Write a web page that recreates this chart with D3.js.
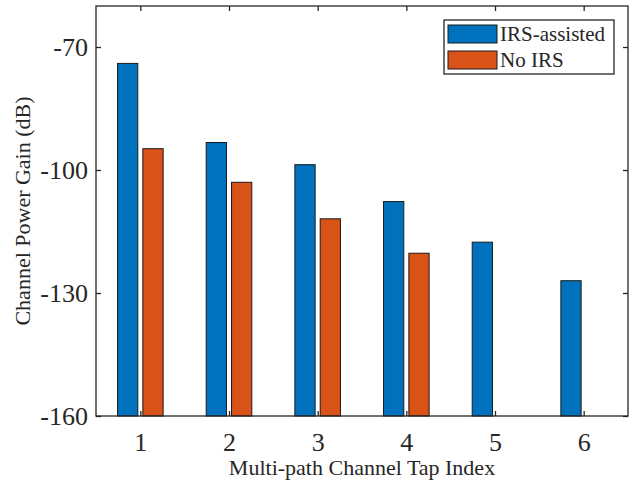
<!DOCTYPE html>
<html>
<head>
<meta charset="utf-8">
<script src="https://cdn.jsdelivr.net/npm/d3@7"></script>
<style>
  html, body { margin: 0; padding: 0; background: #ffffff; }
  svg { display: block; }
</style>
</head>
<body>
<svg id="chart" width="633" height="480"></svg>
<script>
// Channel tap indices and per-tap power gains (dB)
const taps = [1, 2, 3, 4, 5, 6];
const irsAssisted = [-74.0, -93.3, -98.7, -107.7, -117.6, -127.0];
const noIrs = [-94.8, -103.0, -111.9, -120.3, null, null];
const seriesNames = ["IRS-assisted", "No IRS"];
const seriesColors = ["#0072BD", "#D95319"];
const yTicks = [-160, -130, -100, -70];

const W = 633, H = 480;
const margin = { left: 96, right: 5, top: 6, bottom: 64 };
const plotL = margin.left, plotR = W - margin.right;
const plotT = margin.top, plotB = H - margin.bottom;

const serif = "'Liberation Serif', 'Times New Roman', 'DejaVu Serif', serif";
const svg = d3.select("#chart");
const axisColor = "#262626";

const x = d3.scaleLinear().domain([0.5, 6.5]).range([plotL, plotR]);
const y = d3.scaleLinear().domain([-160, -60]).range([plotB, plotT]);

// Grouped bar layout: two series per tap
const groupWidth = 2 / 3.5;
const barW = groupWidth / 2 * 0.8;
const offsets = [-groupWidth / 4, groupWidth / 4];
const series = [irsAssisted, noIrs];

series.forEach((vals, si) => {
  svg.append("g")
    .selectAll("rect")
    .data(taps.map((t, i) => ({ t, v: vals[i] })).filter(d => d.v !== null))
    .join("rect")
    .attr("x", d => x(d.t + offsets[si] - barW / 2))
    .attr("width", d => x(d.t + offsets[si] + barW / 2) - x(d.t + offsets[si] - barW / 2))
    .attr("y", d => y(d.v))
    .attr("height", d => y(-160) - y(d.v))
    .attr("fill", seriesColors[si])
    .attr("stroke", "#1a1a1a")
    .attr("stroke-width", 1);
});

// Axes: ticks inward on all four sides (box on)
const tickLen = 5;
const bottomAxis = d3.axisBottom(x).tickValues(taps).tickSize(-tickLen).tickPadding(17).tickFormat(d3.format("d"));
const topAxis = d3.axisTop(x).tickValues(taps).tickSize(-tickLen).tickFormat("");
const leftAxis = d3.axisLeft(y).tickValues(yTicks).tickSize(-tickLen).tickPadding(8).tickFormat(d => String(d));
const rightAxis = d3.axisRight(y).tickValues(yTicks).tickSize(-tickLen).tickFormat("");

function styleAxis(g) {
  g.attr("font-family", null).attr("font-size", null);
  g.select(".domain").remove();
  g.selectAll(".tick line").attr("stroke", axisColor).attr("stroke-width", 1.3);
  g.selectAll(".tick text")
    .attr("fill", axisColor)
    .style("font-family", serif)
    .style("font-size", "26px");
}

svg.append("g").attr("transform", `translate(0,${plotB})`).call(bottomAxis).call(styleAxis);
svg.append("g").attr("transform", `translate(0,${plotT})`).call(topAxis).call(styleAxis);
svg.append("g").attr("transform", `translate(${plotL},0)`).call(leftAxis).call(styleAxis)
  .selectAll(".tick text").attr("dy", "0.34em");
svg.append("g").attr("transform", `translate(${plotR},0)`).call(rightAxis).call(styleAxis);

// Plot frame
svg.append("rect")
  .attr("x", plotL).attr("y", plotT)
  .attr("width", plotR - plotL).attr("height", plotB - plotT)
  .attr("fill", "none").attr("stroke", axisColor).attr("stroke-width", 1.3);

// Axis labels
svg.append("text")
  .attr("x", (plotL + plotR) / 2).attr("y", 475)
  .attr("text-anchor", "middle")
  .attr("fill", axisColor)
  .style("font-family", serif)
  .style("font-size", "22px")
  .text("Multi-path Channel Tap Index");

svg.append("text")
  .attr("transform", `translate(30,${(plotT + plotB) / 2}) rotate(-90)`)
  .attr("text-anchor", "middle")
  .attr("fill", axisColor)
  .style("font-family", serif)
  .style("font-size", "22px")
  .text("Channel Power Gain (dB)");

// Legend
const lg = svg.append("g");
const lgX = 444, lgY = 20, lgW = 170, lgH = 54;
lg.append("rect")
  .attr("x", lgX).attr("y", lgY).attr("width", lgW).attr("height", lgH)
  .attr("fill", "#ffffff").attr("stroke", axisColor).attr("stroke-width", 1.3);
seriesNames.forEach((name, i) => {
  const cy = lgY + 14 + i * 26;
  lg.append("rect")
    .attr("x", lgX + 4).attr("y", cy - 9).attr("width", 49).attr("height", 18)
    .attr("fill", seriesColors[i]).attr("stroke", "#1a1a1a").attr("stroke-width", 1);
  lg.append("text")
    .attr("x", lgX + 56).attr("y", cy).attr("dy", "0.34em")
    .attr("fill", axisColor)
    .style("font-family", serif)
    .style("font-size", "21px")
    .text(name);
});
</script>
</body>
</html>
